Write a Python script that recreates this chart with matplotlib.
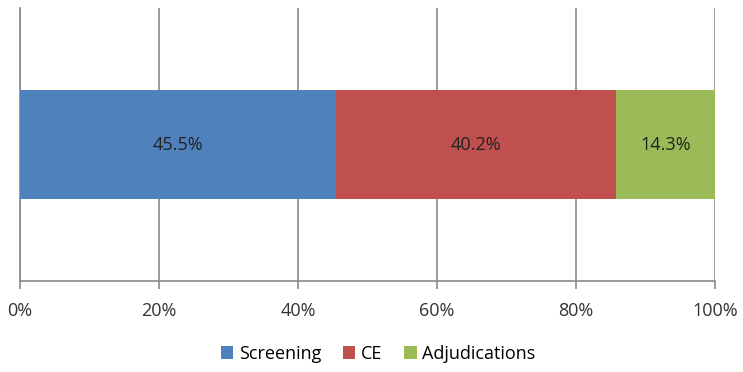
import matplotlib
matplotlib.use("Agg")
import matplotlib.pyplot as plt

plt.rcParams['font.family'] = ['Open Sans', 'DejaVu Sans']

categories = ["Screening", "CE", "Adjudications"]
shares = [45.5, 40.2, 14.3]
colors = ["#4F81BD", "#C0504D", "#9BBB59"]
xticks = [0, 20, 40, 60, 80, 100]


def main():
    fig = plt.figure(figsize=(7.43, 3.72), dpi=100)
    ax = fig.add_axes([20 / 743, 1 - 281 / 372, 695 / 743, 273 / 372])

    left = 0
    for name, val, col in zip(categories, shares, colors):
        ax.barh(0, val, left=left, height=0.396, color=col, label=name, zorder=3)
        ax.text(left + val / 2, 0, f"{val:.1f}%", ha='center', va='center',
                fontsize=13, color='#222222', zorder=4)
        left += val

    ax.set_xlim(0, 100)
    ax.set_ylim(-0.5, 0.5)
    ax.set_xticks(xticks)
    ax.set_xticklabels([f"{t}%" for t in xticks], fontsize=13, color='#333333')
    ax.set_yticks([])
    ax.grid(axis='x', color='#8a8a8a', linewidth=1.2, zorder=0)

    for s in ['top', 'right']:
        ax.spines[s].set_visible(False)
    for s in ['left', 'bottom']:
        ax.spines[s].set_color('#8a8a8a')
        ax.spines[s].set_linewidth(1.2)
    ax.tick_params(axis='x', length=6, width=1.2, color='#8a8a8a', pad=9)

    fig.legend(loc='center', bbox_to_anchor=(378 / 743, 1 - 354 / 372), ncol=3,
               frameon=False, fontsize=13, handlelength=0.7, handleheight=0.7,
               handletextpad=0.3, columnspacing=1.2)

    fig.savefig("out.png", dpi=100)


if __name__ == "__main__":
    main()
